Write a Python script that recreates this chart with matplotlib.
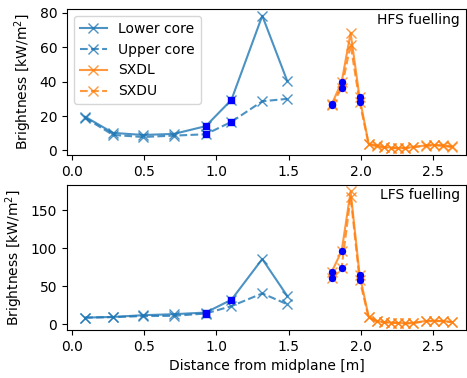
import matplotlib
matplotlib.use("Agg")
import matplotlib.pyplot as plt
import numpy as np

# Core positions (distance from midplane, m)
x_core = [0.09, 0.284, 0.49, 0.705, 0.926, 1.104, 1.318, 1.49]
# SXD positions
x_sxd = [1.80, 1.868, 1.93, 1.992, 2.055, 2.11, 2.16, 2.21, 2.26, 2.31, 2.36,
         2.45, 2.51, 2.57, 2.63]

# HFS fuelling
hfs_lower = [19.6, 10.2, 9.0, 9.6, 14.1, 29.4, 78.4, 40.6]
hfs_upper = [19.0, 9.0, 7.8, 8.6, 9.4, 16.6, 28.6, 30.0]
hfs_sxdl = [27.0, 39.8, 68.4, 30.8, 3.9, 2.9, 2.0, 1.6, 1.4, 1.4, 2.0,
            2.9, 3.2, 2.9, 2.3]
hfs_sxdu = [26.2, 36.3, 61.5, 28.4, 3.6, 2.5, 1.8, 1.4, 1.2, 1.3, 1.8,
            2.7, 3.0, 2.7, 2.0]

# LFS fuelling
lfs_lower = [8.8, 9.7, 12.0, 13.3, 15.5, 32.3, 86.0, 37.6]
lfs_upper = [8.8, 9.5, 10.8, 11.2, 14.2, 23.9, 40.7, 26.5]
lfs_sxdl = [69.5, 96.5, 175.0, 65.5, 10.0, 4.4, 3.1, 2.2, 1.8, 1.3, 1.8,
            4.4, 4.8, 4.4, 3.1]
lfs_sxdu = [61.5, 74.8, 168.0, 58.9, 9.0, 4.0, 2.8, 2.0, 1.6, 1.2, 1.6,
            4.0, 4.4, 4.0, 2.8]

# Highlighted points (indices)
core_sq_hfs = [(4, 'l'), (4, 'u'), (5, 'l'), (5, 'u')]
core_sq_lfs = [(4, 'l'), (4, 'u'), (5, 'l')]
sxd_dot_idx = [0, 1, 3]

fig = plt.figure(figsize=(4.67, 3.78), dpi=100)
ax1 = fig.add_axes([0.1435, 0.59, 0.8545, 0.386])
ax2 = fig.add_axes([0.1435, 0.127, 0.8545, 0.384], sharex=ax1)

def draw(ax, lower, upper, sxdl, sxdu, sq, label):
    kw = dict(marker='x', markersize=7, alpha=0.8)
    ax.plot(x_core, lower, '-', color='C0', label='Lower core', **kw)
    ax.plot(x_core, upper, '--', color='C0', label='Upper core', **kw)
    ax.plot(x_sxd, sxdl, '-', color='C1', label='SXDL', **kw)
    ax.plot(x_sxd, sxdu, '--', color='C1', label='SXDU', **kw)
    for i, w in sq:
        ax.plot(x_core[i], (lower if w == 'l' else upper)[i], 's',
                color='b', markersize=4.3)
    for i in sxd_dot_idx:
        ax.plot(x_sxd[i], sxdl[i], 'o', color='b', markersize=4.3)
        ax.plot(x_sxd[i], sxdu[i], 'o', color='b', markersize=4.3)
    ax.set_ylabel('Brightness [kW/m$^2$]')
    ax.text(0.985, 0.975, label, transform=ax.transAxes, ha='right', va='top',
            fontsize=10)

draw(ax1, hfs_lower, hfs_upper, hfs_sxdl, hfs_sxdu, core_sq_hfs, 'HFS fuelling')
draw(ax2, lfs_lower, lfs_upper, lfs_sxdl, lfs_sxdu, core_sq_lfs, 'LFS fuelling')

ax1.legend(loc='upper left')
ax1.set_yticks([0, 20, 40, 60, 80])
ax2.set_yticks([0, 50, 100, 150])
ax1.set_xlim(-0.035, 2.73)
ax1.set_xticks([0.0, 0.5, 1.0, 1.5, 2.0, 2.5])
ax1.tick_params(labelbottom=True)
ax2.set_xlabel('Distance from midplane [m]')

fig.savefig('out.png', dpi=100)
